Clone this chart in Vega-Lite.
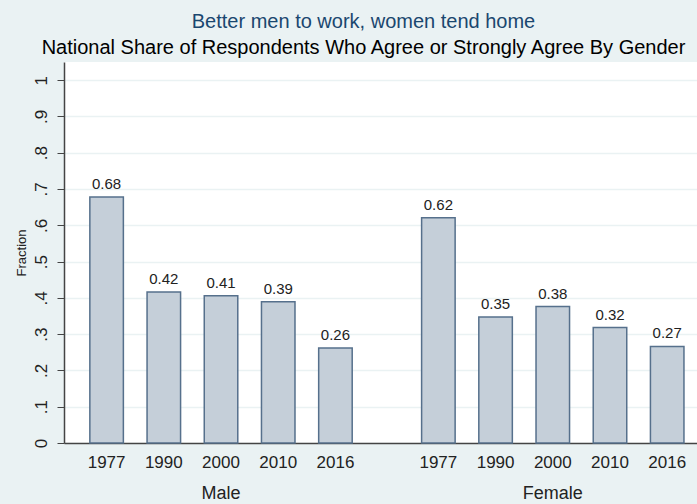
{
  "$schema": "https://vega.github.io/schema/vega-lite/v6.json",
  "autosize": {"type": "none"},
  "padding": {"left": 64, "top": 62, "right": 0, "bottom": 61},
  "width": 633,
  "height": 381,
  "background": "#eaf2f3",
  "config": {
    "font": "Liberation Sans",
    "view": {"stroke": null, "fill": "white"},
    "axis": {"gridColor": "#eaf2f3", "gridWidth": 1.5, "domainColor": "#444444", "domainWidth": 1.5, "tickColor": "#444444", "labelColor": "#222222", "titleColor": "#222222", "titleFontWeight": "normal"}
  },
  "title": {
    "text": "Better men to work, women tend home",
    "subtitle": "National Share of Respondents Who Agree or Strongly Agree By Gender",
    "anchor": "middle",
    "frame": "group",
    "color": "#1a476f",
    "fontSize": 20,
    "fontWeight": "normal",
    "subtitleColor": "#000000",
    "subtitleFontSize": 20,
    "subtitlePadding": 6,
    "offset": 4,
    "dx": -17
  },
  "data": {
    "values": [
      {"gender": "Male", "year": "1977", "value": 0.678},
      {"gender": "Male", "year": "1990", "value": 0.416},
      {"gender": "Male", "year": "2000", "value": 0.406},
      {"gender": "Male", "year": "2010", "value": 0.389},
      {"gender": "Male", "year": "2016", "value": 0.262},
      {"gender": "Female", "year": "1977", "value": 0.621},
      {"gender": "Female", "year": "1990", "value": 0.347},
      {"gender": "Female", "year": "2000", "value": 0.376},
      {"gender": "Female", "year": "2010", "value": 0.318},
      {"gender": "Female", "year": "2016", "value": 0.266}
    ]
  },
  "encoding": {
    "x": {"field": "gender", "type": "nominal", "sort": ["Male", "Female"],
      "scale": {"paddingInner": 0.1306, "paddingOuter": 0.0193, "align": 1},
      "axis": {"title": null, "labelAngle": 0, "ticks": false, "labelPadding": 41, "labelFontSize": 18, "grid": false}},
    "xOffset": {"field": "year", "type": "ordinal",
      "scale": {"paddingInner": 0.414, "paddingOuter": 0.228}},
    "y": {"field": "value", "type": "quantitative",
      "scale": {"domain": [0, 1.05], "nice": false, "zero": true},
      "axis": {"values": [0, 0.1, 0.2, 0.3, 0.4, 0.5, 0.6, 0.7, 0.8, 0.9, 1],
        "labelExpr": "datum.value == 0 ? '0' : datum.value == 1 ? '1' : replace(format(datum.value, '.1f'), '0.', '.')",
        "labelAngle": -90, "labelAlign": "center", "labelBaseline": "alphabetic", "labelPadding": 11, "tickSize": 7,
        "labelFontSize": 17, "title": "Fraction", "titleFontSize": 13, "titlePadding": 4, "grid": true}}
  },
  "layer": [
    {"mark": {"type": "bar", "fill": "#c5cfd9", "stroke": "#56708c", "strokeWidth": 1.5}},
    {"mark": {"type": "text", "dy": -8, "baseline": "alphabetic", "fontSize": 15, "color": "#222222"},
      "encoding": {"text": {"field": "value", "type": "quantitative", "format": ".2f"}}},
    {"mark": {"type": "text", "dy": 20, "baseline": "middle", "fontSize": 17, "color": "#222222"},
      "encoding": {"y": {"datum": 0}, "text": {"field": "year"}}}
  ]
}
